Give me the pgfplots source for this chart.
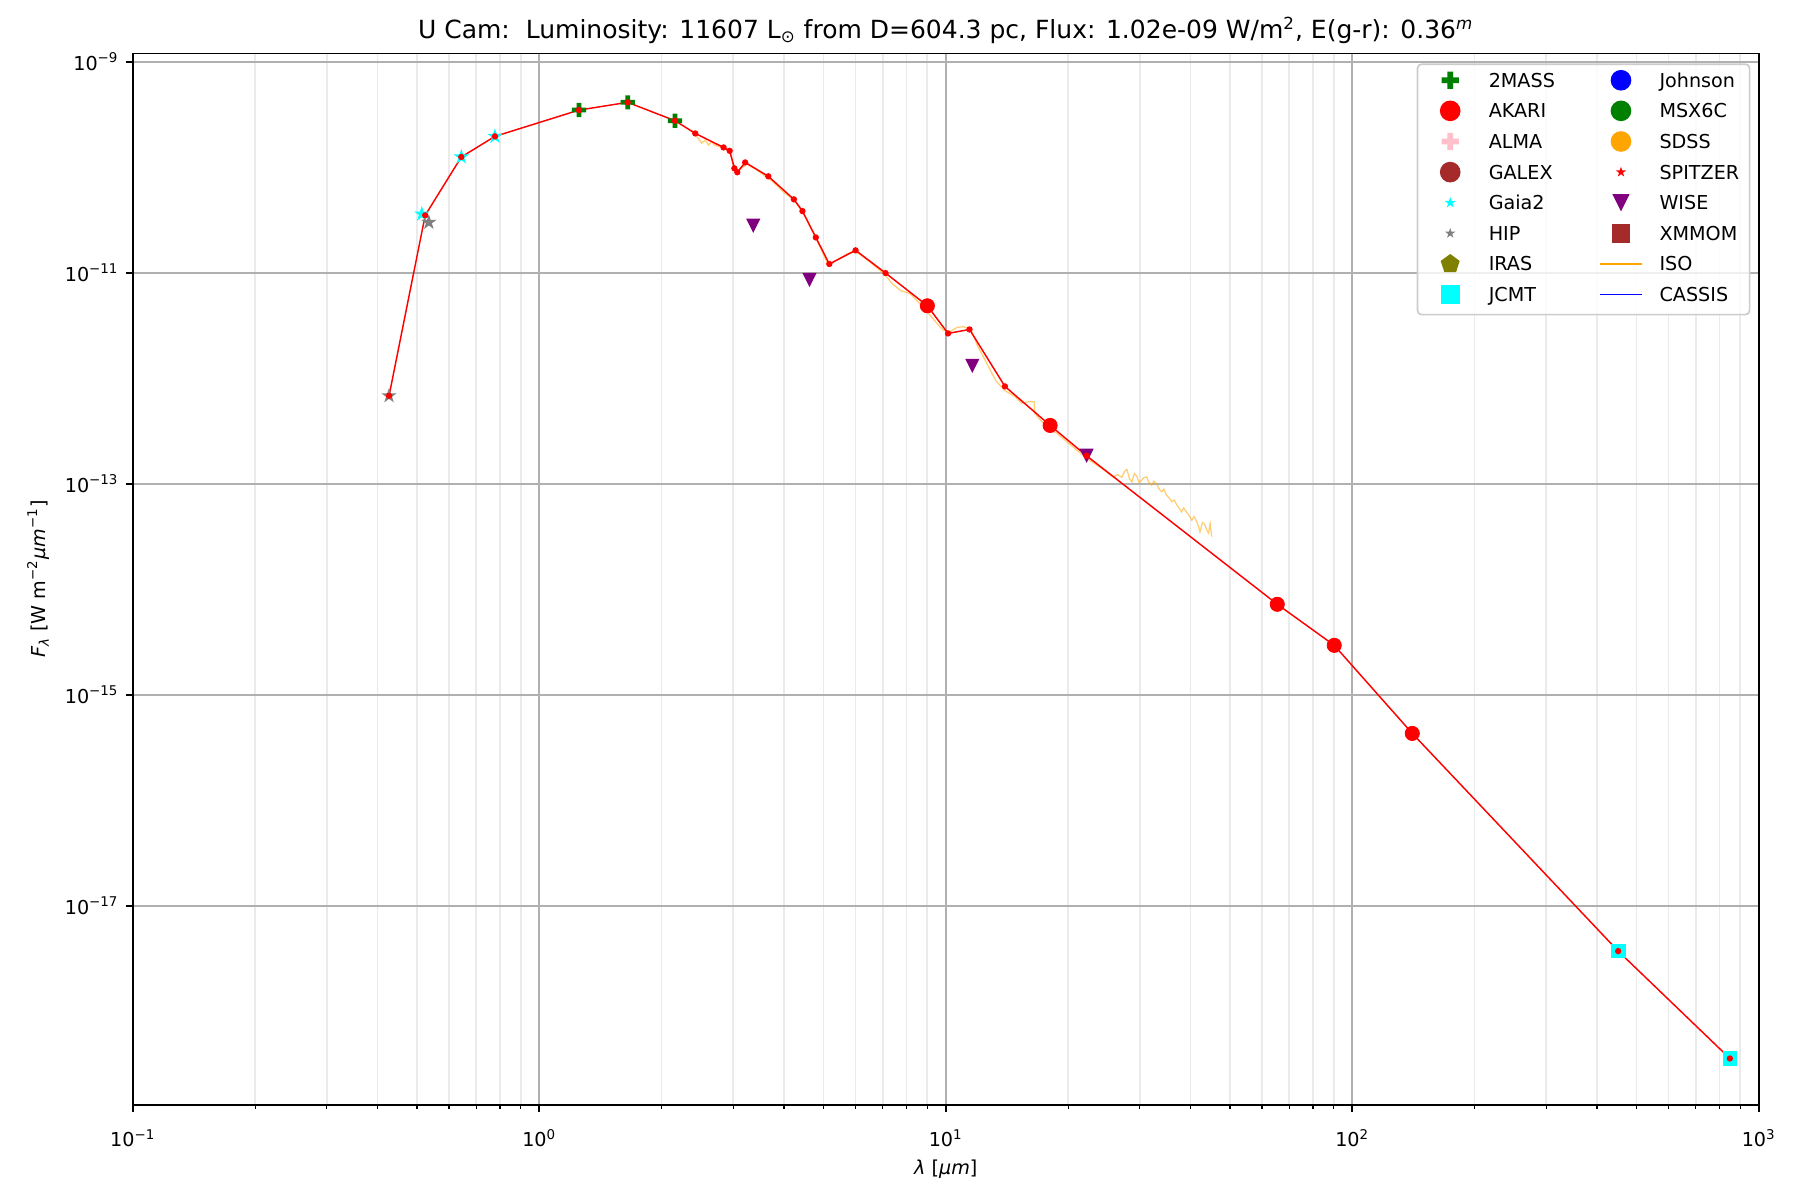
\documentclass[border=0pt]{standalone}
\usepackage{fontspec}
\setmainfont{DejaVu Sans}
\usepackage{pgfplots}
\pgfplotsset{compat=1.18}
\usetikzlibrary{plotmarks}

\definecolor{mplgreen}{HTML}{008000}
\definecolor{mplcyan}{HTML}{00FFFF}
\definecolor{mplgray}{HTML}{808080}
\definecolor{mplpurple}{HTML}{800080}
\definecolor{mplpink}{HTML}{FFC0CB}
\definecolor{mplbrown}{HTML}{A52A2A}
\definecolor{mplolive}{HTML}{808000}
\definecolor{mplorange}{HTML}{FFA500}
\definecolor{mplblue}{HTML}{0000FF}
\definecolor{mplred}{HTML}{FF0000}
\definecolor{gridmaj}{HTML}{B0B0B0}
\definecolor{gridmin}{HTML}{EBEBEB}

% matplotlib-like markers
\pgfdeclareplotmark{fstar}{%
  \pgfpathmoveto{\pgfpointpolar{90}{\pgfplotmarksize}}%
  \pgfpathlineto{\pgfpointpolar{126}{0.382\pgfplotmarksize}}%
  \pgfpathlineto{\pgfpointpolar{162}{\pgfplotmarksize}}%
  \pgfpathlineto{\pgfpointpolar{198}{0.382\pgfplotmarksize}}%
  \pgfpathlineto{\pgfpointpolar{234}{\pgfplotmarksize}}%
  \pgfpathlineto{\pgfpointpolar{270}{0.382\pgfplotmarksize}}%
  \pgfpathlineto{\pgfpointpolar{306}{\pgfplotmarksize}}%
  \pgfpathlineto{\pgfpointpolar{342}{0.382\pgfplotmarksize}}%
  \pgfpathlineto{\pgfpointpolar{18}{\pgfplotmarksize}}%
  \pgfpathlineto{\pgfpointpolar{54}{0.382\pgfplotmarksize}}%
  \pgfpathclose\pgfusepathqfill}
\pgfdeclareplotmark{fplus}{%
  \pgfpathrectangle{\pgfpoint{-\pgfplotmarksize}{-0.3333\pgfplotmarksize}}{\pgfpoint{2\pgfplotmarksize}{0.6667\pgfplotmarksize}}%
  \pgfpathrectangle{\pgfpoint{-0.3333\pgfplotmarksize}{-\pgfplotmarksize}}{\pgfpoint{0.6667\pgfplotmarksize}{2\pgfplotmarksize}}%
  \pgfusepathqfill}
\pgfdeclareplotmark{tdown}{%
  \pgfpathmoveto{\pgfpoint{0pt}{-\pgfplotmarksize}}%
  \pgfpathlineto{\pgfpoint{-\pgfplotmarksize}{\pgfplotmarksize}}%
  \pgfpathlineto{\pgfpoint{\pgfplotmarksize}{\pgfplotmarksize}}%
  \pgfpathclose\pgfusepathqfill}

\pgfplotsset{
  mk/.style={legend image code/.code={%
      \path (0pt,-1pt) (20.6pt,7pt);
      \draw[##1, opacity=1, fill opacity=1, draw opacity=1] plot[only marks] coordinates {(10.3pt,3.35pt)};}},
  ln/.style={legend image code/.code={%
      \draw[##1, opacity=1, draw opacity=1] (0pt,3.35pt) -- (20.6pt,3.35pt);}},
}

\newcommand{\fs}{\fontsize{9.2}{11}\selectfont}

\begin{document}
\begin{tikzpicture}
\begin{axis}[
  scale only axis, width=780.4pt, height=504.8pt,
  xmode=log, ymode=log,
  xmin=0.1, xmax=1000, ymin=1.29e-19, ymax=1.2e-9,
  xtick={0.1,1,10,100,1000},
  xticklabels={10\textsuperscript{−1},10\textsuperscript{0},10\textsuperscript{1},10\textsuperscript{2},10\textsuperscript{3}},
  minor xtick={0.2,0.3,0.4,0.5,0.6,0.7,0.8,0.9,2,3,4,5,6,7,8,9,20,30,40,50,60,70,80,90,200,300,400,500,600,700,800,900},
  ytick={1e-17,1e-15,1e-13,1e-11,1e-9},
  yticklabels={10\textsuperscript{−17},10\textsuperscript{−15},10\textsuperscript{−13},10\textsuperscript{−11},10\textsuperscript{−9}},
  yminorticks=false,
  xmajorgrids, xminorgrids, ymajorgrids,
  major grid style={gridmaj, line width=0.8pt},
  minor grid style={gridmin, line width=0.8pt},
  tick align=outside, tick pos=left,
  major tick length=3.3pt, minor tick length=1.9pt,
  every major tick/.append style={black, line width=0.8pt},
  every minor tick/.append style={black, line width=0.6pt},
  axis line style={black, line width=0.8pt},
  tick label style={font=\fs},
  xticklabel style={anchor=base, yshift=-16.8pt},
  label style={font=\fs},
  xlabel={\textit{λ} [\textit{μm}]},
  ylabel={\textit{F}\textsubscript{\textit{λ}} [W m\textsuperscript{−2}\textit{μm}\textsuperscript{−1}]},
  xlabel style={at={(axis description cs:0.5,-0.06557)}, anchor=base},
  ylabel style={at={(axis description cs:-0.05395,0.5)}, anchor=base},
  every axis title shift=0pt,
  title={U Cam:\ \ Luminosity: 11607 L\textsubscript{⊙} from D=604.3 pc, Flux: 1.02e-09 W/m\textsuperscript{2}, E(g-r): 0.36\textsuperscript{\textit{m}}},
  title style={at={(axis description cs:0.5,1.01327)}, anchor=south, inner ysep=0pt, text depth=0pt, font=\fontsize{12}{14}\selectfont},
  legend columns=2,
  legend cell align=left,
  legend style={at={(axis description cs:1,1)}, anchor=north east,
    xshift=-4pt, yshift=-4.8pt, draw=black!20, line width=0.8pt,
    rounded corners=2pt, fill=white, fill opacity=0.8, text opacity=1,
    font=\fs, inner xsep=5pt, inner ysep=1.3pt,
    nodes={anchor=base west, inner xsep=0pt, inner ysep=2.75pt, text height=7pt, text depth=2.2pt},
    /tikz/every odd column/.append style={column sep=7.8pt},
    /tikz/every even column/.append style={column sep=21pt}},
]

% ISO spectrum
\addplot[forget plot, mplorange, opacity=0.55, line width=0.6pt] coordinates {
(2.37,2.25e-10)(2.46,1.88e-10)(2.51,1.69e-10)(2.56,1.81e-10)(2.61,1.62e-10)
(2.65,1.75e-10)(2.70,1.62e-10)(2.78,1.56e-10)(2.86,1.50e-10)(2.95,1.38e-10)
(3.02,1.00e-10)(3.08,9.2e-11)(3.24,1.07e-10)(3.43,9.4e-11)(3.63,8.0e-11)
(3.73,7.45e-11)(4.0,5.75e-11)(4.23,4.9e-11)(4.44,3.8e-11)(4.79,2.14e-11)
(5.1,1.26e-11)(5.2,1.2e-11)(5.5,1.38e-11)(5.8,1.55e-11)(6.0,1.6e-11)
(6.5,1.27e-11)(7.1,9.5e-12)(7.37,7.94e-12)(7.75,6.75e-12)(8.15,6.38e-12)
(8.47,5.5e-12)(9.0,4.27e-12)(9.36,3.56e-12)(9.84,2.86e-12)(10.24,2.76e-12)
(10.65,3.03e-12)(11.08,3.08e-12)(11.53,2.86e-12)(12.0,1.99e-12)(12.49,1.49e-12)
(13.25,9.6e-13)(13.93,7.7e-13)(14.79,6.7e-13)(15.38,5.8e-13)(16.0,6.0e-13)
(16.5,6.0e-13)(16.55,4.65e-13)(17.68,3.47e-13)(18.77,3.0e-13)(20.3,2.33e-13)
(22.2,1.74e-13)(24.0,1.43e-13)(25.8,1.16e-13)(26.5,1.22e-13)(27.1,1.15e-13)
(27.5,1.30e-13)(27.9,1.37e-13)(28.3,1.12e-13)(28.7,1.04e-13)(29.1,1.25e-13)
(29.5,1.18e-13)(29.9,1.02e-13)(30.3,1.08e-13)(30.7,1.14e-13)(31.2,1.16e-13)
(31.6,1.03e-13)(32.1,9.7e-14)(32.5,1.06e-13)(33.0,1.0e-13)(33.5,8.9e-14)
(34.0,8.4e-14)(34.4,8.9e-14)(34.9,7.8e-14)(35.4,7.4e-14)(36.0,6.75e-14)
(36.5,7.0e-14)(37.0,6.3e-14)(37.5,5.9e-14)(38.0,5.4e-14)(38.5,5.9e-14)
(39.1,5.4e-14)(39.7,5.0e-14)(40.3,4.5e-14)(40.8,4.9e-14)(41.4,4.4e-14)
(41.8,4.0e-14)(42.2,3.5e-14)(42.8,4.3e-14)(43.4,4.1e-14)(43.9,3.6e-14)
(44.3,3.4e-14)(44.7,4.2e-14)(45.1,3.15e-14)
};

% Gaia2
\addplot[forget plot, only marks, mplcyan, mark=fstar, mark size=3.9pt] coordinates {
(0.514,3.6e-11)(0.643,1.25e-10)(0.778,1.96e-10)
};
% HIP
\addplot[forget plot, only marks, mplgray, mark=fstar, mark size=3.9pt] coordinates {
(0.427,6.82e-13)(0.535,3.0e-11)
};
% 2MASS
\addplot[forget plot, only marks, mplgreen, mark=fplus, mark size=3.4pt] coordinates {
(1.252,3.48e-10)(1.65,4.12e-10)(2.157,2.76e-10)
};
% WISE
\addplot[forget plot, only marks, mplpurple, mark=tdown, mark size=3.4pt] coordinates {
(3.36,2.79e-11)(4.62,8.53e-12)(11.62,1.31e-12)(22.2,1.84e-13)
};
% AKARI
\addplot[forget plot, only marks, mplred, mark=*, mark size=3.4pt] coordinates {
(9.01,4.86e-12)(18.06,3.57e-13)(65.4,7.2e-15)(90.3,2.94e-15)(140.5,4.3e-16)
};
% JCMT
\addplot[forget plot, only marks, mplcyan, mark=square*, mark size=3.25pt] coordinates {
(451,3.72e-18)(849,3.57e-19)
};

% combined photometry
\addplot[forget plot, mplred, line width=0.7pt, mark=*, mark size=1.15pt] coordinates {
(0.427,6.82e-13)(0.524,3.5e-11)(0.643,1.25e-10)(0.778,1.96e-10)(1.252,3.48e-10)
(1.65,4.12e-10)(2.157,2.76e-10)(2.42,2.09e-10)(2.84,1.54e-10)(2.94,1.43e-10)
(3.02,9.76e-11)(3.07,8.95e-11)(3.21,1.11e-10)(3.66,8.2e-11)(4.23,4.96e-11)
(4.44,3.84e-11)(4.79,2.16e-11)(5.17,1.21e-11)(6.0,1.63e-11)(7.11,9.93e-12)
(9.01,4.86e-12)(10.13,2.66e-12)(11.44,2.9e-12)(13.98,8.37e-13)(18.06,3.57e-13)
(22.2,1.84e-13)(65.4,7.2e-15)(90.3,2.94e-15)(140.5,4.3e-16)(451,3.72e-18)
(849,3.57e-19)
};

% legend, matplotlib column order
\addlegendimage{mk, mplgreen, mark=fplus, mark size=4.15pt}\addlegendentry{2MASS}
\addlegendimage{mk, mplblue, mark=*, mark size=4.55pt}\addlegendentry{Johnson}
\addlegendimage{mk, mplred, mark=*, mark size=4.55pt}\addlegendentry{AKARI}
\addlegendimage{mk, mplgreen, mark=*, mark size=4.55pt}\addlegendentry{MSX6C}
\addlegendimage{mk, mplpink, mark=fplus, mark size=4.15pt}\addlegendentry{ALMA}
\addlegendimage{mk, mplorange, mark=*, mark size=4.55pt}\addlegendentry{SDSS}
\addlegendimage{mk, mplbrown, mark=*, mark size=4.55pt}\addlegendentry{GALEX}
\addlegendimage{mk, mplred, mark=fstar, mark size=2.6pt}\addlegendentry{SPITZER}
\addlegendimage{mk, mplcyan, mark=fstar, mark size=2.8pt}\addlegendentry{Gaia2}
\addlegendimage{mk, mplpurple, mark=tdown, mark size=4.1pt}\addlegendentry{WISE}
\addlegendimage{mk, mplgray, mark=fstar, mark size=2.6pt}\addlegendentry{HIP}
\addlegendimage{mk, mplbrown, mark=square*, mark size=4.15pt}\addlegendentry{XMMOM}
\addlegendimage{mk, mplolive, mark=pentagon*, mark size=4.3pt}\addlegendentry{IRAS}
\addlegendimage{ln, mplorange, line width=0.8pt}\addlegendentry{ISO}
\addlegendimage{mk, mplcyan, mark=square*, mark size=4.15pt}\addlegendentry{JCMT}
\addlegendimage{ln, mplblue, line width=0.8pt}\addlegendentry{CASSIS}
\end{axis}
\path ([shift={(-63.74pt,-45.6pt)}]current axis.south west) rectangle ([shift={(19.8pt,25.6pt)}]current axis.north east);
\end{tikzpicture}
\end{document}
